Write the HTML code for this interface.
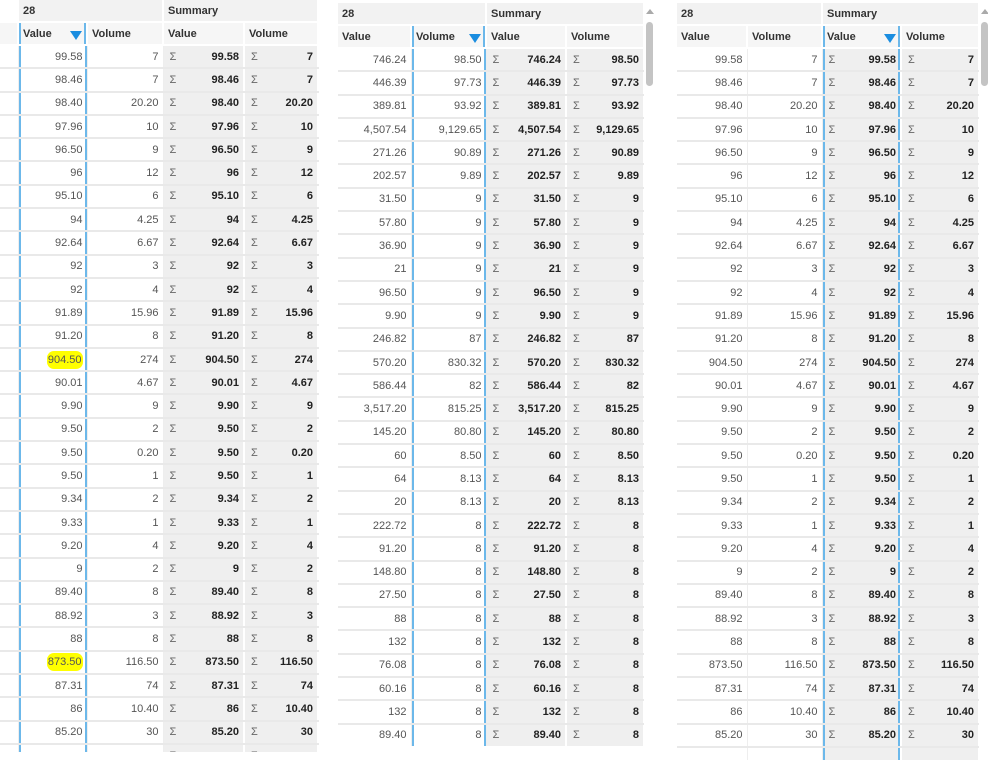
<!DOCTYPE html>
<html><head><meta charset="utf-8"><style>
body{margin:0;width:988px;height:760px;background:#fff;overflow:hidden;position:relative;font-family:"Liberation Sans",sans-serif;font-size:11px}
.p{position:absolute;overflow:hidden;background:#fff}
table{border-collapse:collapse;table-layout:fixed}
td,th{padding:0 4px;white-space:nowrap;overflow:hidden}
th{background:#f2f2f2;color:#333;font-weight:bold;text-align:left;height:21px;border-right:2px solid #fff;border-bottom:2px solid #fff}
tr.h2 th{background:#f6f6f6}
th.g{background:#fff}
td{height:21.3px;border-bottom:2px solid #e9e9e9;border-right:1px solid #eee;text-align:right;color:#555}
td.s{background:#efefef;color:#222;font-weight:bold;border-right:2px solid #fff}
td.s i{float:left;font-style:normal;font-weight:normal;color:#666;margin-left:2px}
.sel{box-shadow:inset 2px 0 #6cb8ea,inset -2px 0 #6cb8ea}
th.sel{background:#fff}
.tri{float:right;width:0;height:0;border-left:6px solid transparent;border-right:6px solid transparent;border-top:9px solid #1a8de0;margin-top:3px}
.hl{background:#ffff00;border-radius:7px;padding:3px 1px}
.sb{position:absolute;width:7px;background:#c4c4c4;border-radius:4px}
.up{position:absolute;width:0;height:0;border-left:4px solid transparent;border-right:4px solid transparent;border-bottom:5px solid #aaa}
</style></head><body>

<div class="p" style="left:0;top:0;width:320px;height:752px">
<table style="width:318px">
<colgroup><col style="width:18px"><col style="width:69px"><col style="width:76px"><col style="width:81px"><col style="width:74px"></colgroup>
<tr><th class="g"></th><th colspan="2">28</th><th colspan="2">Summary</th></tr>
<tr class="h2"><th class="g"></th><th class="sel">Value<span class="tri"></span></th><th>Volume</th><th>Value</th><th>Volume</th></tr>
<tr><td></td><td class="sel">99.58</td><td>7</td><td class="s"><i>Σ</i>99.58</td><td class="s"><i>Σ</i>7</td></tr>
<tr><td></td><td class="sel">98.46</td><td>7</td><td class="s"><i>Σ</i>98.46</td><td class="s"><i>Σ</i>7</td></tr>
<tr><td></td><td class="sel">98.40</td><td>20.20</td><td class="s"><i>Σ</i>98.40</td><td class="s"><i>Σ</i>20.20</td></tr>
<tr><td></td><td class="sel">97.96</td><td>10</td><td class="s"><i>Σ</i>97.96</td><td class="s"><i>Σ</i>10</td></tr>
<tr><td></td><td class="sel">96.50</td><td>9</td><td class="s"><i>Σ</i>96.50</td><td class="s"><i>Σ</i>9</td></tr>
<tr><td></td><td class="sel">96</td><td>12</td><td class="s"><i>Σ</i>96</td><td class="s"><i>Σ</i>12</td></tr>
<tr><td></td><td class="sel">95.10</td><td>6</td><td class="s"><i>Σ</i>95.10</td><td class="s"><i>Σ</i>6</td></tr>
<tr><td></td><td class="sel">94</td><td>4.25</td><td class="s"><i>Σ</i>94</td><td class="s"><i>Σ</i>4.25</td></tr>
<tr><td></td><td class="sel">92.64</td><td>6.67</td><td class="s"><i>Σ</i>92.64</td><td class="s"><i>Σ</i>6.67</td></tr>
<tr><td></td><td class="sel">92</td><td>3</td><td class="s"><i>Σ</i>92</td><td class="s"><i>Σ</i>3</td></tr>
<tr><td></td><td class="sel">92</td><td>4</td><td class="s"><i>Σ</i>92</td><td class="s"><i>Σ</i>4</td></tr>
<tr><td></td><td class="sel">91.89</td><td>15.96</td><td class="s"><i>Σ</i>91.89</td><td class="s"><i>Σ</i>15.96</td></tr>
<tr><td></td><td class="sel">91.20</td><td>8</td><td class="s"><i>Σ</i>91.20</td><td class="s"><i>Σ</i>8</td></tr>
<tr><td></td><td class="sel"><span class="hl">904.50</span></td><td>274</td><td class="s"><i>Σ</i>904.50</td><td class="s"><i>Σ</i>274</td></tr>
<tr><td></td><td class="sel">90.01</td><td>4.67</td><td class="s"><i>Σ</i>90.01</td><td class="s"><i>Σ</i>4.67</td></tr>
<tr><td></td><td class="sel">9.90</td><td>9</td><td class="s"><i>Σ</i>9.90</td><td class="s"><i>Σ</i>9</td></tr>
<tr><td></td><td class="sel">9.50</td><td>2</td><td class="s"><i>Σ</i>9.50</td><td class="s"><i>Σ</i>2</td></tr>
<tr><td></td><td class="sel">9.50</td><td>0.20</td><td class="s"><i>Σ</i>9.50</td><td class="s"><i>Σ</i>0.20</td></tr>
<tr><td></td><td class="sel">9.50</td><td>1</td><td class="s"><i>Σ</i>9.50</td><td class="s"><i>Σ</i>1</td></tr>
<tr><td></td><td class="sel">9.34</td><td>2</td><td class="s"><i>Σ</i>9.34</td><td class="s"><i>Σ</i>2</td></tr>
<tr><td></td><td class="sel">9.33</td><td>1</td><td class="s"><i>Σ</i>9.33</td><td class="s"><i>Σ</i>1</td></tr>
<tr><td></td><td class="sel">9.20</td><td>4</td><td class="s"><i>Σ</i>9.20</td><td class="s"><i>Σ</i>4</td></tr>
<tr><td></td><td class="sel">9</td><td>2</td><td class="s"><i>Σ</i>9</td><td class="s"><i>Σ</i>2</td></tr>
<tr><td></td><td class="sel">89.40</td><td>8</td><td class="s"><i>Σ</i>89.40</td><td class="s"><i>Σ</i>8</td></tr>
<tr><td></td><td class="sel">88.92</td><td>3</td><td class="s"><i>Σ</i>88.92</td><td class="s"><i>Σ</i>3</td></tr>
<tr><td></td><td class="sel">88</td><td>8</td><td class="s"><i>Σ</i>88</td><td class="s"><i>Σ</i>8</td></tr>
<tr><td></td><td class="sel"><span class="hl">873.50</span></td><td>116.50</td><td class="s"><i>Σ</i>873.50</td><td class="s"><i>Σ</i>116.50</td></tr>
<tr><td></td><td class="sel">87.31</td><td>74</td><td class="s"><i>Σ</i>87.31</td><td class="s"><i>Σ</i>74</td></tr>
<tr><td></td><td class="sel">86</td><td>10.40</td><td class="s"><i>Σ</i>86</td><td class="s"><i>Σ</i>10.40</td></tr>
<tr><td></td><td class="sel">85.20</td><td>30</td><td class="s"><i>Σ</i>85.20</td><td class="s"><i>Σ</i>30</td></tr>
<tr><td></td><td class="sel"></td><td></td><td class="s"><i>Σ</i></td><td class="s"><i>Σ</i></td></tr>
</table></div>

<div class="p" style="left:338px;top:3px;width:306px;height:743px">
<table style="width:306px">
<colgroup><col style="width:73px"><col style="width:75px"><col style="width:80px"><col style="width:78px"></colgroup>
<tr><th colspan="2">28</th><th colspan="2">Summary</th></tr>
<tr class="h2"><th>Value</th><th class="sel">Volume<span class="tri"></span></th><th>Value</th><th>Volume</th></tr>
<tr><td>746.24</td><td class="sel">98.50</td><td class="s"><i>Σ</i>746.24</td><td class="s"><i>Σ</i>98.50</td></tr>
<tr><td>446.39</td><td class="sel">97.73</td><td class="s"><i>Σ</i>446.39</td><td class="s"><i>Σ</i>97.73</td></tr>
<tr><td>389.81</td><td class="sel">93.92</td><td class="s"><i>Σ</i>389.81</td><td class="s"><i>Σ</i>93.92</td></tr>
<tr><td>4,507.54</td><td class="sel">9,129.65</td><td class="s"><i>Σ</i>4,507.54</td><td class="s"><i>Σ</i>9,129.65</td></tr>
<tr><td>271.26</td><td class="sel">90.89</td><td class="s"><i>Σ</i>271.26</td><td class="s"><i>Σ</i>90.89</td></tr>
<tr><td>202.57</td><td class="sel">9.89</td><td class="s"><i>Σ</i>202.57</td><td class="s"><i>Σ</i>9.89</td></tr>
<tr><td>31.50</td><td class="sel">9</td><td class="s"><i>Σ</i>31.50</td><td class="s"><i>Σ</i>9</td></tr>
<tr><td>57.80</td><td class="sel">9</td><td class="s"><i>Σ</i>57.80</td><td class="s"><i>Σ</i>9</td></tr>
<tr><td>36.90</td><td class="sel">9</td><td class="s"><i>Σ</i>36.90</td><td class="s"><i>Σ</i>9</td></tr>
<tr><td>21</td><td class="sel">9</td><td class="s"><i>Σ</i>21</td><td class="s"><i>Σ</i>9</td></tr>
<tr><td>96.50</td><td class="sel">9</td><td class="s"><i>Σ</i>96.50</td><td class="s"><i>Σ</i>9</td></tr>
<tr><td>9.90</td><td class="sel">9</td><td class="s"><i>Σ</i>9.90</td><td class="s"><i>Σ</i>9</td></tr>
<tr><td>246.82</td><td class="sel">87</td><td class="s"><i>Σ</i>246.82</td><td class="s"><i>Σ</i>87</td></tr>
<tr><td>570.20</td><td class="sel">830.32</td><td class="s"><i>Σ</i>570.20</td><td class="s"><i>Σ</i>830.32</td></tr>
<tr><td>586.44</td><td class="sel">82</td><td class="s"><i>Σ</i>586.44</td><td class="s"><i>Σ</i>82</td></tr>
<tr><td>3,517.20</td><td class="sel">815.25</td><td class="s"><i>Σ</i>3,517.20</td><td class="s"><i>Σ</i>815.25</td></tr>
<tr><td>145.20</td><td class="sel">80.80</td><td class="s"><i>Σ</i>145.20</td><td class="s"><i>Σ</i>80.80</td></tr>
<tr><td>60</td><td class="sel">8.50</td><td class="s"><i>Σ</i>60</td><td class="s"><i>Σ</i>8.50</td></tr>
<tr><td>64</td><td class="sel">8.13</td><td class="s"><i>Σ</i>64</td><td class="s"><i>Σ</i>8.13</td></tr>
<tr><td>20</td><td class="sel">8.13</td><td class="s"><i>Σ</i>20</td><td class="s"><i>Σ</i>8.13</td></tr>
<tr><td>222.72</td><td class="sel">8</td><td class="s"><i>Σ</i>222.72</td><td class="s"><i>Σ</i>8</td></tr>
<tr><td>91.20</td><td class="sel">8</td><td class="s"><i>Σ</i>91.20</td><td class="s"><i>Σ</i>8</td></tr>
<tr><td>148.80</td><td class="sel">8</td><td class="s"><i>Σ</i>148.80</td><td class="s"><i>Σ</i>8</td></tr>
<tr><td>27.50</td><td class="sel">8</td><td class="s"><i>Σ</i>27.50</td><td class="s"><i>Σ</i>8</td></tr>
<tr><td>88</td><td class="sel">8</td><td class="s"><i>Σ</i>88</td><td class="s"><i>Σ</i>8</td></tr>
<tr><td>132</td><td class="sel">8</td><td class="s"><i>Σ</i>132</td><td class="s"><i>Σ</i>8</td></tr>
<tr><td>76.08</td><td class="sel">8</td><td class="s"><i>Σ</i>76.08</td><td class="s"><i>Σ</i>8</td></tr>
<tr><td>60.16</td><td class="sel">8</td><td class="s"><i>Σ</i>60.16</td><td class="s"><i>Σ</i>8</td></tr>
<tr><td>132</td><td class="sel">8</td><td class="s"><i>Σ</i>132</td><td class="s"><i>Σ</i>8</td></tr>
<tr><td>89.40</td><td class="sel">8</td><td class="s"><i>Σ</i>89.40</td><td class="s"><i>Σ</i>8</td></tr>
</table></div>
<div class="up" style="left:646px;top:9px"></div>
<div class="sb" style="left:646px;top:22px;height:64px"></div>

<div class="p" style="left:677px;top:3px;width:302px;height:757px">
<table style="width:302px">
<colgroup><col style="width:70px"><col style="width:75px"><col style="width:79px"><col style="width:78px"></colgroup>
<tr><th colspan="2">28</th><th colspan="2">Summary</th></tr>
<tr class="h2"><th>Value</th><th>Volume</th><th class="sel">Value<span class="tri"></span></th><th>Volume</th></tr>
<tr><td>99.58</td><td>7</td><td class="s sel"><i>Σ</i>99.58</td><td class="s"><i>Σ</i>7</td></tr>
<tr><td>98.46</td><td>7</td><td class="s sel"><i>Σ</i>98.46</td><td class="s"><i>Σ</i>7</td></tr>
<tr><td>98.40</td><td>20.20</td><td class="s sel"><i>Σ</i>98.40</td><td class="s"><i>Σ</i>20.20</td></tr>
<tr><td>97.96</td><td>10</td><td class="s sel"><i>Σ</i>97.96</td><td class="s"><i>Σ</i>10</td></tr>
<tr><td>96.50</td><td>9</td><td class="s sel"><i>Σ</i>96.50</td><td class="s"><i>Σ</i>9</td></tr>
<tr><td>96</td><td>12</td><td class="s sel"><i>Σ</i>96</td><td class="s"><i>Σ</i>12</td></tr>
<tr><td>95.10</td><td>6</td><td class="s sel"><i>Σ</i>95.10</td><td class="s"><i>Σ</i>6</td></tr>
<tr><td>94</td><td>4.25</td><td class="s sel"><i>Σ</i>94</td><td class="s"><i>Σ</i>4.25</td></tr>
<tr><td>92.64</td><td>6.67</td><td class="s sel"><i>Σ</i>92.64</td><td class="s"><i>Σ</i>6.67</td></tr>
<tr><td>92</td><td>3</td><td class="s sel"><i>Σ</i>92</td><td class="s"><i>Σ</i>3</td></tr>
<tr><td>92</td><td>4</td><td class="s sel"><i>Σ</i>92</td><td class="s"><i>Σ</i>4</td></tr>
<tr><td>91.89</td><td>15.96</td><td class="s sel"><i>Σ</i>91.89</td><td class="s"><i>Σ</i>15.96</td></tr>
<tr><td>91.20</td><td>8</td><td class="s sel"><i>Σ</i>91.20</td><td class="s"><i>Σ</i>8</td></tr>
<tr><td>904.50</td><td>274</td><td class="s sel"><i>Σ</i>904.50</td><td class="s"><i>Σ</i>274</td></tr>
<tr><td>90.01</td><td>4.67</td><td class="s sel"><i>Σ</i>90.01</td><td class="s"><i>Σ</i>4.67</td></tr>
<tr><td>9.90</td><td>9</td><td class="s sel"><i>Σ</i>9.90</td><td class="s"><i>Σ</i>9</td></tr>
<tr><td>9.50</td><td>2</td><td class="s sel"><i>Σ</i>9.50</td><td class="s"><i>Σ</i>2</td></tr>
<tr><td>9.50</td><td>0.20</td><td class="s sel"><i>Σ</i>9.50</td><td class="s"><i>Σ</i>0.20</td></tr>
<tr><td>9.50</td><td>1</td><td class="s sel"><i>Σ</i>9.50</td><td class="s"><i>Σ</i>1</td></tr>
<tr><td>9.34</td><td>2</td><td class="s sel"><i>Σ</i>9.34</td><td class="s"><i>Σ</i>2</td></tr>
<tr><td>9.33</td><td>1</td><td class="s sel"><i>Σ</i>9.33</td><td class="s"><i>Σ</i>1</td></tr>
<tr><td>9.20</td><td>4</td><td class="s sel"><i>Σ</i>9.20</td><td class="s"><i>Σ</i>4</td></tr>
<tr><td>9</td><td>2</td><td class="s sel"><i>Σ</i>9</td><td class="s"><i>Σ</i>2</td></tr>
<tr><td>89.40</td><td>8</td><td class="s sel"><i>Σ</i>89.40</td><td class="s"><i>Σ</i>8</td></tr>
<tr><td>88.92</td><td>3</td><td class="s sel"><i>Σ</i>88.92</td><td class="s"><i>Σ</i>3</td></tr>
<tr><td>88</td><td>8</td><td class="s sel"><i>Σ</i>88</td><td class="s"><i>Σ</i>8</td></tr>
<tr><td>873.50</td><td>116.50</td><td class="s sel"><i>Σ</i>873.50</td><td class="s"><i>Σ</i>116.50</td></tr>
<tr><td>87.31</td><td>74</td><td class="s sel"><i>Σ</i>87.31</td><td class="s"><i>Σ</i>74</td></tr>
<tr><td>86</td><td>10.40</td><td class="s sel"><i>Σ</i>86</td><td class="s"><i>Σ</i>10.40</td></tr>
<tr><td>85.20</td><td>30</td><td class="s sel"><i>Σ</i>85.20</td><td class="s"><i>Σ</i>30</td></tr>
<tr><td></td><td></td><td class="s sel"></td><td class="s"></td></tr>
</table></div>
<div class="up" style="left:981px;top:9px"></div>
<div class="sb" style="left:981px;top:22px;height:64px"></div>
</body></html>
